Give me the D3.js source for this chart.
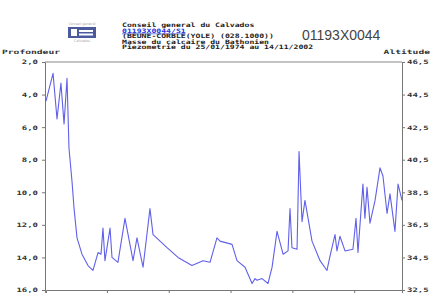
<!DOCTYPE html>
<html>
<head>
<meta charset="utf-8">
<script src="https://cdn.jsdelivr.net/npm/d3@7"></script>
<style>
  body { margin: 0; background: #fff; }
  svg { display: block; }
  .lab { font-family: "DejaVu Sans Mono", monospace; font-weight: bold; font-size: 6px; fill: #333; }
</style>
</head>
<body>
<div id="chart"></div>
<script>
// sampled dates (decimal year) and depth below ground (m)
const years = [1974.07, 1974.64, 1974.96, 1975.28, 1975.53, 1975.77, 1975.93, 1976.17, 1976.34, 1976.58,
  1976.98, 1977.47, 1977.87, 1978.28, 1978.52, 1978.68, 1978.84, 1979.25, 1979.41, 1979.89,
  1980.46, 1981.11, 1981.43, 1981.92, 1982.48, 1982.73, 1983.86, 1984.75, 1985.88, 1986.77,
  1987.34, 1987.90, 1988.15, 1989.12, 1989.52, 1990.17, 1990.74, 1990.98, 1991.14, 1991.55,
  1992.03, 1992.36, 1992.76, 1993.25, 1993.65, 1993.81, 1993.97, 1994.38, 1994.54, 1994.78,
  1995.02, 1995.59, 1996.24, 1996.80, 1997.05, 1997.45, 1997.61, 1997.85, 1998.26, 1998.90,
  1999.15, 1999.31, 1999.71, 1999.87, 2000.04, 2000.28, 2000.69, 2000.85, 2001.09, 2001.33,
  2001.66, 2001.90, 2002.30, 2002.55, 2002.87];
const depth = [4.4, 2.7, 5.5, 3.3, 5.8, 3.0, 7.3, 9.3, 11.0, 12.8,
  13.8, 14.5, 14.8, 13.7, 13.8, 12.2, 14.2, 12.2, 14.0, 14.3,
  11.6, 14.2, 12.8, 14.6, 11.0, 12.6, 13.4, 14.0, 14.5, 14.2,
  14.3, 12.8, 13.0, 13.2, 14.2, 14.6, 15.6, 15.3, 15.4, 15.3,
  15.6, 14.6, 12.4, 13.8, 13.6, 11.0, 13.4, 13.5, 7.5, 11.8,
  10.5, 13.0, 14.2, 14.8, 13.9, 12.6, 13.6, 12.7, 13.6, 13.5,
  11.6, 13.7, 9.5, 11.6, 9.7, 11.9, 10.5, 9.7, 8.5, 9.0,
  11.3, 10.1, 12.4, 9.5, 10.5];

const depthTicks = [2, 4, 6, 8, 10, 12, 14, 16];
const altTicks = [46.5, 44.5, 42.5, 40.5, 38.5, 36.5, 34.5, 32.5];
const yearTicks = [1974, 1979, 1984, 1989, 1994, 1999];
const headerLines = [
  "Conseil general du Calvados",
  "01193X0044/S1",
  "(BEUNE-CORBLE(YOLE) (028.1000))",
  "Masse du calcaire du Bathonien",
  "Piezometrie du 25/01/1974 au 14/11/2002"
];
const code = "01193X0044";
const groundLevel = 48.5;

const W = 435, H = 295;
const m = {left: 45, right: 402, top: 62, bottom: 290};

const svg = d3.select('#chart').append('svg')
  .attr('width', W).attr('height', H);

const x = d3.scaleLinear().domain([1974.07, 2002.87]).range([m.left + 1, m.right]);
const y = d3.scaleLinear().domain([2, 16]).range([m.top, m.bottom]);
const y2 = d3.scaleLinear().domain([groundLevel - 2, groundLevel - 16]).range([m.top, m.bottom]);

const fmt = v => d3.format('.1f')(v).replace('.', ',');

// wide bitmap-like text: stretch glyphs to a fixed advance
function stretch(sel, adv) {
  sel.each(function() {
    const n = this.textContent.length;
    d3.select(this).attr('textLength', n * adv).attr('lengthAdjust', 'spacingAndGlyphs');
  });
}

// frame lines
svg.append('line').attr('x1', m.left).attr('x2', m.right).attr('y1', m.top).attr('y2', m.top)
  .attr('stroke', '#888').attr('stroke-width', 1);

const left = svg.append('g').attr('transform', `translate(${m.left},0)`)
  .call(d3.axisLeft(y).tickValues(depthTicks).tickSize(3).tickPadding(4).tickFormat(fmt));
const right = svg.append('g').attr('transform', `translate(${m.right},0)`)
  .call(d3.axisRight(y2).tickValues(altTicks).tickSize(3).tickPadding(2).tickFormat(fmt));
const bottom = svg.append('g').attr('transform', `translate(0,${m.bottom})`)
  .call(d3.axisBottom(x).tickValues(yearTicks).tickSize(3).tickFormat(''));

[left, right, bottom].forEach(g => {
  g.selectAll('path,line').attr('stroke', '#777');
  g.selectAll('text').attr('class', 'lab').attr('fill', '#444').call(stretch, 5.4);
});

// series
svg.append('path')
  .datum(years.map((t, i) => [t, depth[i]]))
  .attr('fill', 'none')
  .attr('stroke', '#6060ea')
  .attr('stroke-width', 1.1)
  .attr('stroke-linejoin', 'round')
  .attr('d', d3.line().x(d => x(d[0])).y(d => y(d[1])));

// axis titles
svg.append('text').attr('class', 'lab').attr('x', 2).attr('y', 54).text('Profondeur').call(stretch, 5.8);
svg.append('text').attr('class', 'lab').attr('x', 430).attr('y', 54)
  .attr('text-anchor', 'end').text('Altitude').call(stretch, 5.8);

// logo
const logo = svg.append('g').attr('transform', 'translate(67,22)');
logo.append('text').attr('x', 15).attr('y', 3).attr('text-anchor', 'middle')
  .attr('font-family', 'DejaVu Sans').attr('font-size', 3.5).attr('fill', '#aaa').text('Conseil général');
logo.append('rect').attr('x', 1).attr('y', 5).attr('width', 28).attr('height', 11).attr('fill', '#4a5a9c');
logo.append('rect').attr('x', 4).attr('y', 7).attr('width', 6).attr('height', 7).attr('fill', '#fff');
logo.append('rect').attr('x', 12).attr('y', 8).attr('width', 14).attr('height', 2).attr('fill', '#fff');
logo.append('rect').attr('x', 12).attr('y', 11.5).attr('width', 14).attr('height', 2).attr('fill', '#fff');
logo.append('text').attr('x', 15).attr('y', 20).attr('text-anchor', 'middle')
  .attr('font-family', 'DejaVu Sans').attr('font-size', 3.5).attr('fill', '#aaa').text('Calvados');

// header text
svg.selectAll('text.hdr').data(headerLines).enter().append('text')
  .attr('class', 'lab hdr')
  .attr('x', 122)
  .attr('y', (d, i) => 27 + i * 5.6)
  .style('font-size', '6px')
  .style('fill', (d, i) => i === 1 ? '#2233dd' : '#222')
  .attr('text-decoration', (d, i) => i === 1 ? 'underline' : null)
  .text(d => d)
  .call(stretch, 4.9);

svg.append('text').attr('x', 302).attr('y', 40)
  .attr('font-family', 'Liberation Sans').attr('font-size', 14).attr('fill', '#444')
  .text(code);
</script>
</body>
</html>
